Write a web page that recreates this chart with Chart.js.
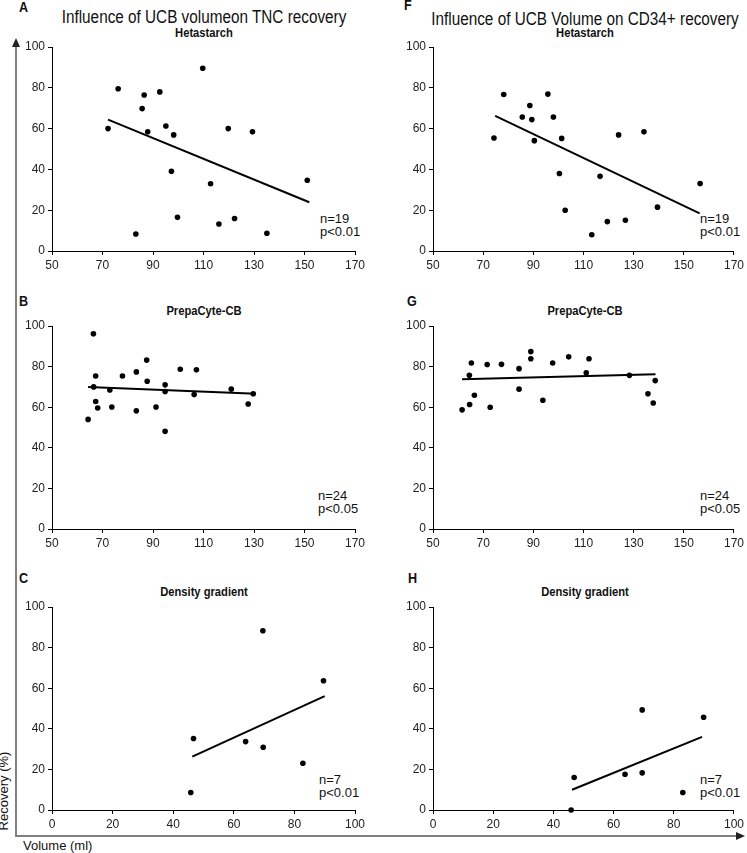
<!DOCTYPE html>
<html><head><meta charset="utf-8">
<script src="https://cdn.jsdelivr.net/npm/chart.js@4/dist/chart.umd.min.js"></script>
<style>
body{margin:0;background:#fff;width:747px;height:853px;position:relative;overflow:hidden;font-family:"Liberation Sans",Arial,sans-serif;color:#111}
.t{position:absolute;white-space:nowrap}
.c{transform:translateX(-50%)}
.main{font-size:18px;line-height:18px;transform:translateX(-50%) scaleX(0.85)}
.sub{font-weight:bold;font-size:13px;line-height:14px;transform:translateX(-50%) scaleX(0.86)}
.let{font-weight:bold;font-size:14px;line-height:14px;transform:scaleX(0.9);transform-origin:left}
.np{font-size:13px;line-height:12.5px}
canvas{position:absolute}
.ln{position:absolute;background:#808080}
</style></head><body>
<script>
// ---- data ----
const aVol = [72.2,76.2,86.5,85.7,87.9,92.7,95.1,98.2,97.3,99.7,83.2,109.7,112.8,116.1,119.8,122.3,129.4,135.1,151.1];
const aRec = [60.0,79.5,76.5,69.8,58.4,78.0,61.3,56.9,39.1,16.5,8.3,89.6,33.0,13.2,60.0,15.9,58.4,8.7,34.7];
const aFitX = [72.2,151.9], aFitY = [64.4,23.9];

const fVol = [74.3,78.2,85.6,88.6,89.4,90.4,95.8,98.0,101.3,100.4,102.7,113.3,116.6,119.5,124.0,126.7,134.1,139.5,156.5];
const fRec = [55.4,76.7,65.7,71.3,64.4,54.1,76.9,65.7,55.2,38.0,20.0,8.0,36.6,14.4,56.9,15.1,58.4,21.5,33.1];
const fFitX = [74.8,156.3], fFitY = [66.2,18.4];

const bVol = [66.4,67.3,66.5,67.3,68.1,64.3,72.9,73.7,77.9,83.4,83.4,87.5,87.7,91.2,94.8,94.8,94.8,100.8,106.3,107.2,121.0,127.7,129.7];
const bRec = [96.2,75.4,70.0,62.8,59.6,54.0,68.5,60.1,75.4,77.4,58.2,83.2,72.8,60.1,71.0,67.7,48.1,78.7,66.2,78.4,68.9,61.6,66.6];
const bFitX = [64.3,130.8], bFitY = [70.0,66.6];

const gVol = [61.6,64.5,64.6,65.3,66.5,71.6,72.8,77.3,84.3,84.3,89.0,89.0,93.8,97.7,104.1,111.1,112.2,128.3,135.7,137.8,138.6];
const gRec = [58.7,75.7,61.3,81.8,65.9,81.0,60.0,81.1,79.0,68.9,87.4,83.9,63.4,81.8,84.8,77.0,83.9,75.7,66.6,62.1,73.1];
const gFitX = [61.6,138.7], gFitY = [73.8,76.2];

const cVol = [46.7,45.8,63.9,69.6,69.7,82.8,89.6];
const cRec = [35.2,8.6,33.7,88.3,30.9,23.0,63.7];
const cFitX = [46.3,90.0], cFitY = [26.3,56.1];

const hVol = [46.9,45.9,63.8,69.5,69.5,83.0,89.9];
const hRec = [16.0,0,17.6,49.3,18.3,8.6,45.7];
const hFitX = [46.2,89.4], hFitY = [10.0,36.0];

const volTicksHS = [50,170];   // x range, Hetastarch & PrepaCyte panels
const volTicksDG = [0,100];    // x range, density gradient panels
const recRange = [0,100];

const mainTitles = ["Influence of UCB volumeon TNC recovery","Influence of UCB Volume on CD34+ recovery"];
const subTitles = ["Hetastarch","PrepaCyte-CB","Density gradient"];
const letters = [["A","F"],["B","G"],["C","H"]];
const stats = [["n=19","p<0.01"],["n=24","p<0.05"],["n=7","p<0.01"]];
</script>

<div class="ln" style="left:15px;top:44px;width:2px;height:793px"></div>
<div style="position:absolute;left:12px;top:38px;width:0;height:0;border-left:4px solid transparent;border-right:4px solid transparent;border-bottom:9px solid #222"></div>
<div class="ln" style="left:15px;top:835px;width:722px;height:2px"></div>
<div style="position:absolute;left:736px;top:832px;width:0;height:0;border-top:4px solid transparent;border-bottom:4px solid transparent;border-left:9px solid #222"></div>
<div class="t" style="left:-36px;top:784px;width:80px;text-align:center;font-size:13px;line-height:14px;transform:rotate(-90deg)">Recovery (%)</div>
<div class="t" style="left:23px;top:839px;font-size:13px;line-height:14px">Volume (ml)</div>

<script>
const colCenters = [203.5,585];
const colArea = [[52,355],[433,737]];
const colCanvas = [[20,350],[395,352]];
const rowArea = [[47,251],[326,529],[607,810]];
const subTops = [26,304,585];
const letterPos = [[[19,0],[404,-2]],[[19,294],[407,294]],[[19,571],[408,571]]];
const statPos = [[[320,213],[700,213]],[[318,490],[700,490]],[[319,774],[700,774]]];
const mainTops = [8,10];

function addText(cls, txt, left, top, center){
  const d=document.createElement('div');
  d.className='t '+cls+(center&&cls!=='main'&&cls!=='sub'?' c':'');
  d.style.left=left+'px'; d.style.top=top+'px';
  d.innerHTML=txt; document.body.appendChild(d);
}
for(let c=0;c<2;c++){
  addText('main', mainTitles[c], colCenters[c], mainTops[c], true);
  for(let r=0;r<3;r++){
    addText('sub', subTitles[r], colCenters[c], subTops[r], true);
    addText('let', letters[r][c], letterPos[r][c][0], letterPos[r][c][1], false);
    addText('np', stats[r][0]+'<br>'+stats[r][1].replace('<','&lt;'), statPos[r][c][0], statPos[r][c][1], false);
  }
}

const panels = [
  [aVol,aRec,aFitX,aFitY,volTicksHS,0,0],
  [fVol,fRec,fFitX,fFitY,volTicksHS,0,1],
  [bVol,bRec,bFitX,bFitY,volTicksHS,1,0],
  [gVol,gRec,gFitX,gFitY,volTicksHS,1,1],
  [cVol,cRec,cFitX,cFitY,volTicksDG,2,0],
  [hVol,hRec,hFitX,hFitY,volTicksDG,2,1]
];
const tickFont = {family:'"Liberation Sans", Arial, sans-serif', size:12};
panels.forEach(([xs,ys,fx,fy,xr,r,c])=>{
  const [L,R]=colArea[c], [T,B]=rowArea[r];
  const [cl,cw]=colCanvas[c];
  const ct=T-17, ch=B-ct+39;
  const cv=document.createElement('canvas');
  cv.width=cw; cv.height=ch;
  cv.style.left=cl+'px'; cv.style.top=ct+'px'; cv.style.width=cw+'px'; cv.style.height=ch+'px';
  document.body.appendChild(cv);
  new Chart(cv,{
    type:'scatter',
    data:{datasets:[
      {data:xs.map((x,i)=>({x:x,y:ys[i]})),pointRadius:2.8,pointBackgroundColor:'#000',pointBorderWidth:0,backgroundColor:'#000',clip:false},
      {type:'line',data:fx.map((x,i)=>({x:x,y:fy[i]})),borderColor:'#000',borderWidth:2,pointRadius:0,fill:false,showLine:true,clip:false}
    ]},
    options:{
      responsive:false,animation:false,devicePixelRatio:1,
      layout:{padding:{left:0,top:17,right:cl+cw-R,bottom:9}},
      plugins:{legend:{display:false},tooltip:{enabled:false},title:{display:false}},
      scales:{
        x:{type:'linear',min:xr[0],max:xr[1],
           ticks:{stepSize:20,color:'#222',font:tickFont,padding:3,maxRotation:0,autoSkip:false},
           grid:{display:true,drawOnChartArea:false,drawTicks:true,tickLength:4,color:'#000'},
           border:{display:true,color:'#000',width:1},
           afterFit:s=>{s.height=30;}},
        y:{type:'linear',min:recRange[0],max:recRange[1],
           ticks:{stepSize:20,color:'#222',font:tickFont,padding:3,autoSkip:false},
           grid:{display:true,drawOnChartArea:false,drawTicks:true,tickLength:4,color:'#000'},
           border:{display:true,color:'#000',width:1},
           afterFit:s=>{s.width=L-cl;}}
      }
    }
  });
});
</script>
</body></html>
